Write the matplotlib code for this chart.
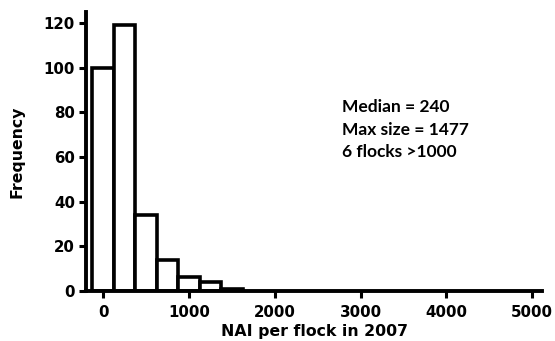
import matplotlib.pyplot as plt
import numpy as np

# histogram bins (centres) and counts
bin_centres = [0, 250, 500, 750, 1000, 1250, 1500]
counts = [100, 119, 34, 14, 6, 4, 1]
bin_width = 250
xticks = [0, 1000, 2000, 3000, 4000, 5000]
yticks = [0, 20, 40, 60, 80, 100, 120]
note_lines = ["Median = 240", "Max size = 1477", "6 flocks >1000"]
note_y = [80.3, 70.0, 60.1]

plt.rcParams['font.family'] = ['DejaVu Sans']
plt.rcParams['font.weight'] = 'bold'

fig = plt.figure(figsize=(5.55, 3.41), dpi=100)
ax = fig.add_axes([0.155, 0.147, 0.822, 0.818])

ax.bar(bin_centres, counts, width=bin_width, color='white',
       edgecolor='black', linewidth=2.6)

ax.set_xlim(-198, 5117)
ax.set_ylim(0, 125)
ax.set_xticks(xticks)
ax.set_yticks(yticks)

for s in ['top', 'right']:
    ax.spines[s].set_visible(False)
for s in ['left', 'bottom']:
    ax.spines[s].set_linewidth(2.8)
ax.tick_params(direction='out', length=5, width=2.2, labelsize=10.8, pad=3)
ax.tick_params(axis='x', pad=5)

ax.set_xlabel('NAI per flock in 2007', fontsize=11.3, fontweight='bold', labelpad=3)
ax.set_ylabel('Frequency', fontsize=11.3, fontweight='bold', labelpad=14)

for txt, yy in zip(note_lines, note_y):
    ax.text(2786, yy, txt, fontsize=12.5, fontweight='bold',
            family=['Lato', 'DejaVu Sans'], va='baseline', ha='left')

fig.savefig('out.png', dpi=100)
